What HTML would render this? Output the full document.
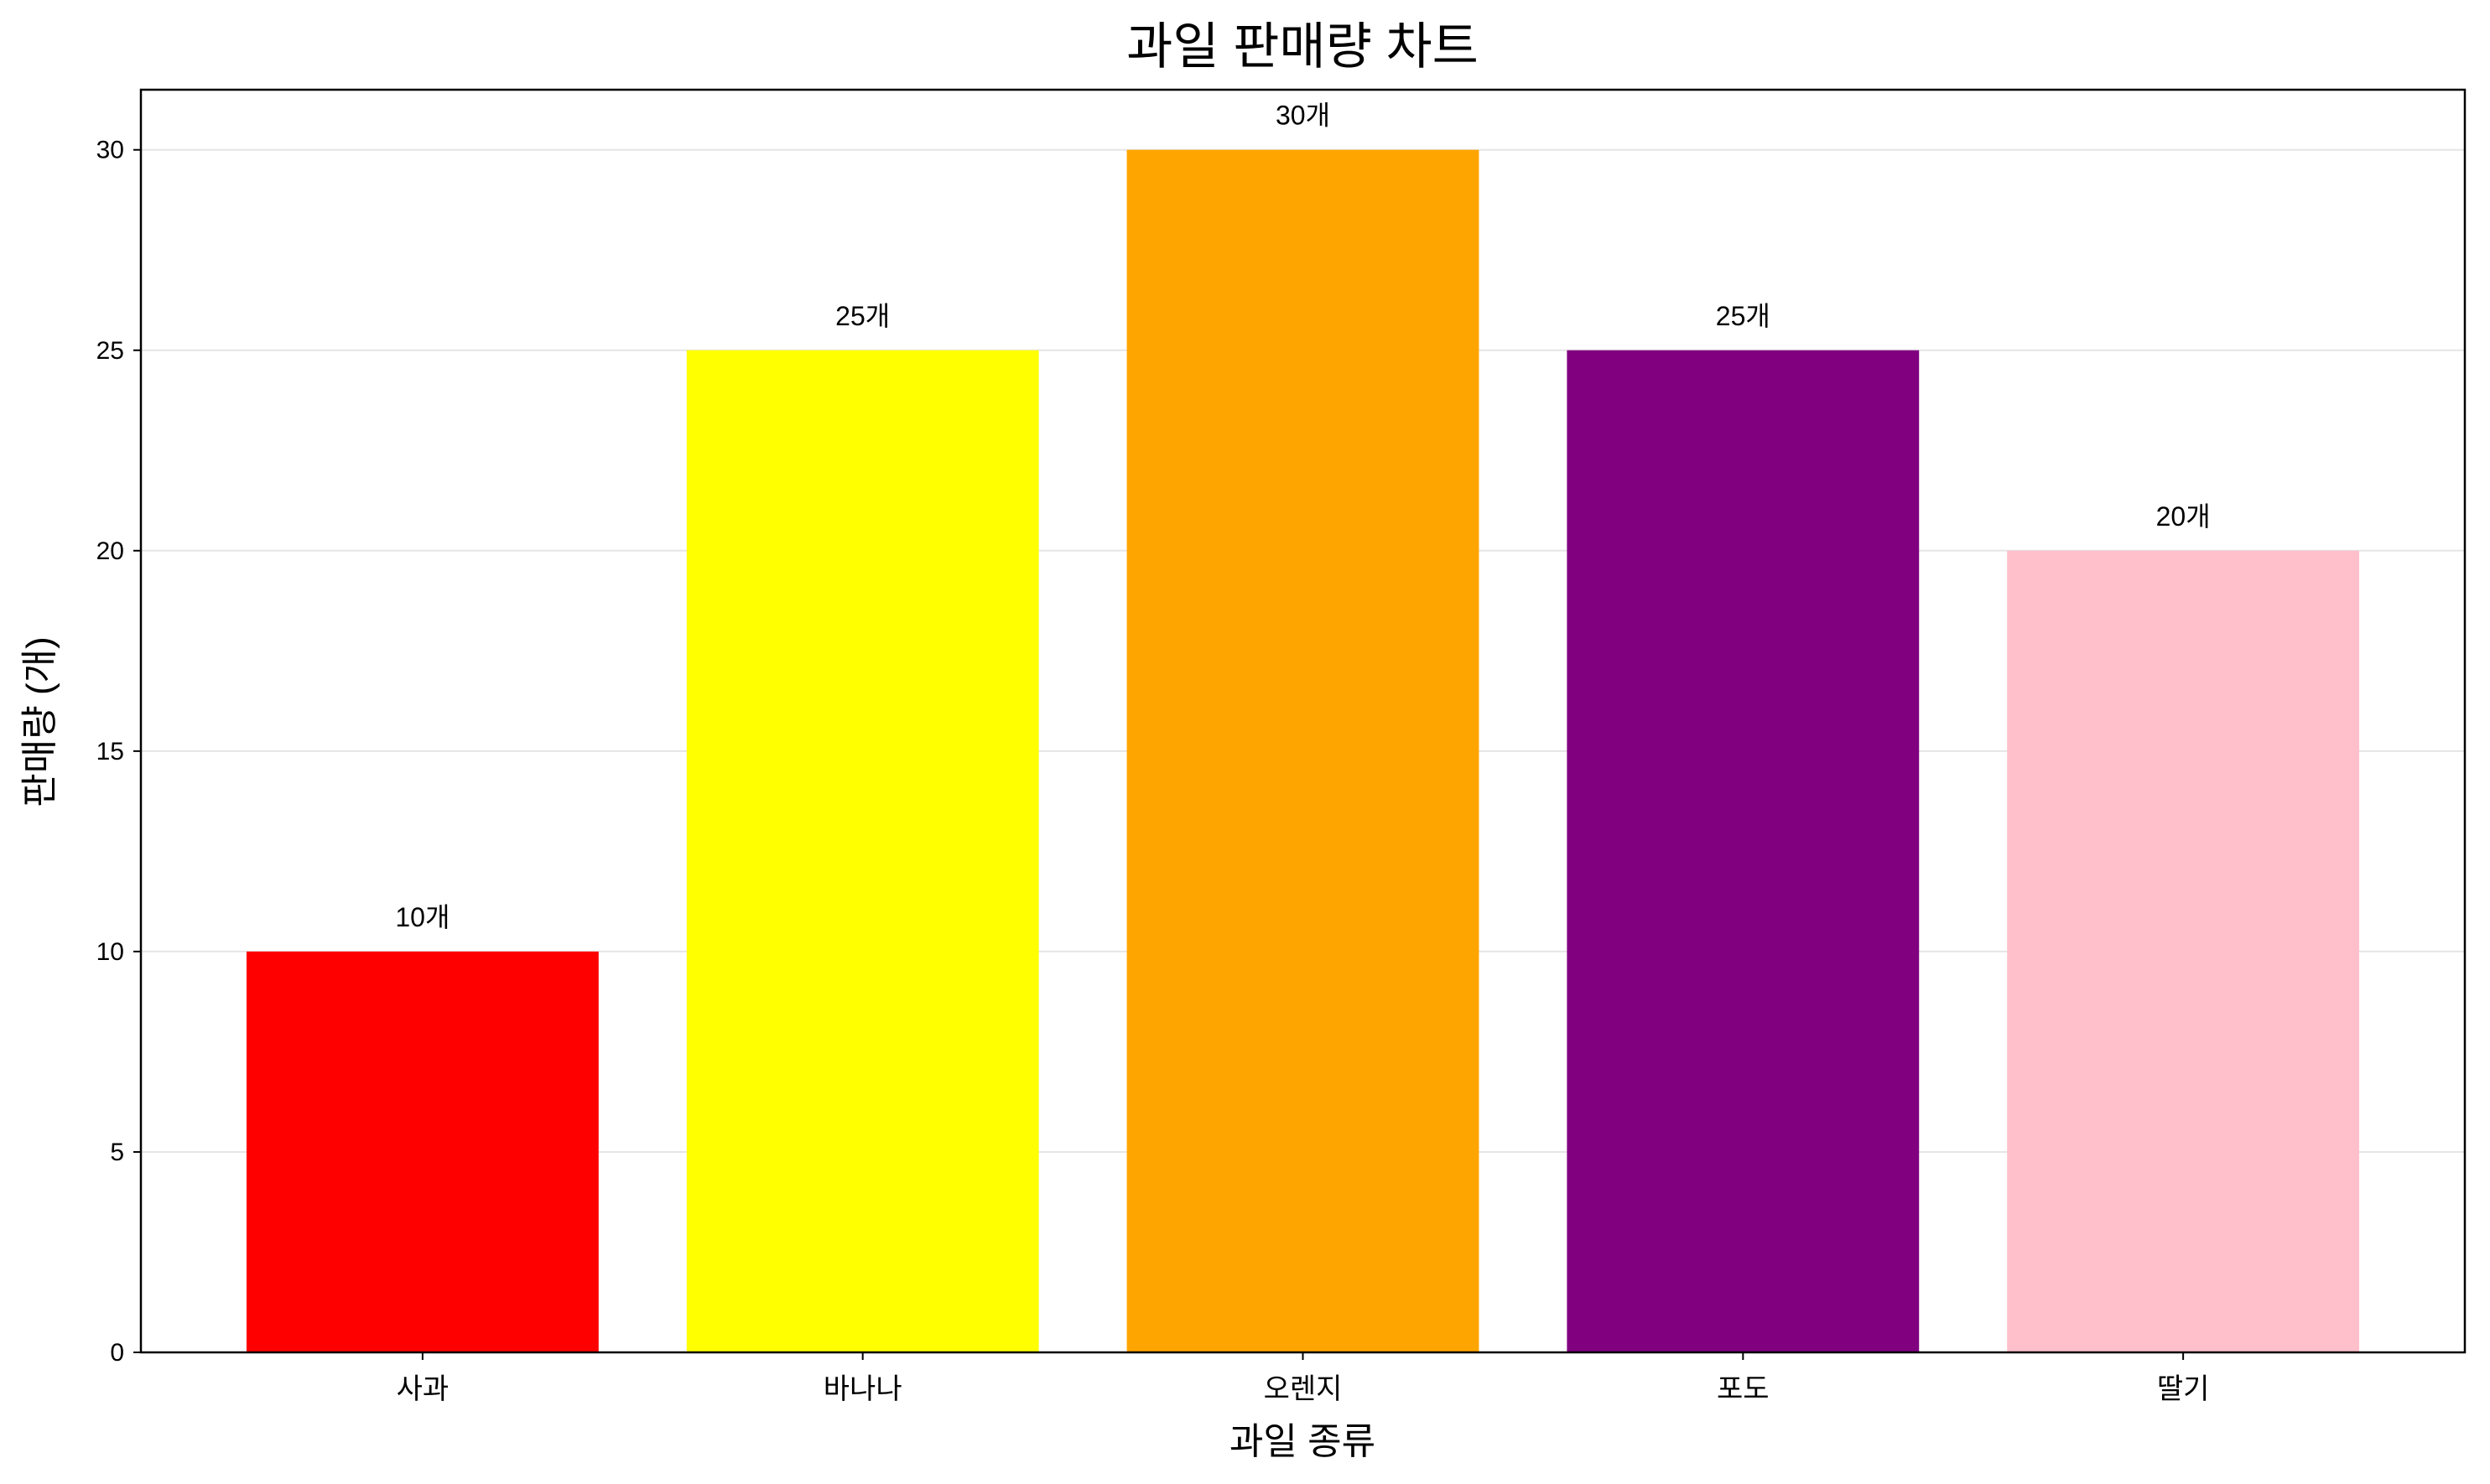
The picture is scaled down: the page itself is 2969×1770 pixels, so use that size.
<!DOCTYPE html>
<html><head><meta charset="utf-8">
<style>
html,body{margin:0;padding:0;background:#fff;}
svg{display:block;font-family:"Liberation Sans","Noto Sans CJK KR",sans-serif;}
</style></head>
<body>
<svg id="chart" width="2969" height="1770" viewBox="0 0 2969 1770" xmlns="http://www.w3.org/2000/svg">
<rect width="2969" height="1770" fill="#fff"/>
<text x="1553" y="76" font-size="60" text-anchor="middle" fill="#000">과일 판매량 차트</text>
<g id="grid"></g>
<g id="bars"></g>
<g id="axes"></g>
<text x="1553" y="1734" font-size="44" text-anchor="middle" fill="#000">과일 종류</text>
<text x="0" y="0" font-size="44" text-anchor="middle" fill="#000" transform="translate(62,861) rotate(-90)">판매량 (개)</text>
</svg>
<script>
const categories = ["사과","바나나","오렌지","포도","딸기"];
const values = [10,25,30,25,20];
const colors = ["#ff0000","#ffff00","#ffa500","#800080","#ffc0cb"];
const yTicks = [0,5,10,15,20,25,30];
const valueLabels = ["10개","25개","30개","25개","20개"];

const L=168, R=2939, T=107, B=1613;
const xMin=-0.64, xMax=4.64, yMax=31.5;
const NS="http://www.w3.org/2000/svg";
function xs(i){return L+(i-xMin)/(xMax-xMin)*(R-L);}
function ys(v){return B-v/yMax*(B-T);}
function mk(tag,attrs,parent){const e=document.createElementNS(NS,tag);for(const k in attrs)e.setAttribute(k,attrs[k]);parent.appendChild(e);return e;}
const grid=document.getElementById('grid'),bars=document.getElementById('bars'),axes=document.getElementById('axes');
yTicks.forEach(t=>{
  const g=mk('line',{x1:L,x2:R,y1:ys(t),y2:ys(t),stroke:'#e5e5e5','stroke-width':2},grid);
  
  
  const tk=mk('line',{x1:L-9,x2:L,y1:ys(t),y2:ys(t),stroke:'#000','stroke-width':2},axes);
  
  
  const tx=mk('text',{x:L-20,y:ys(t)+10,'font-size':30,'text-anchor':'end',fill:'#000'},axes);
  tx.textContent=t;
  
  
});
const bw=0.8*(xs(1)-xs(0));
categories.forEach((c,i)=>{
  const cx=xs(i);
  const r=mk('rect',{x:cx-bw/2,y:ys(values[i]),width:bw,height:B-ys(values[i]),fill:colors[i]},bars);
  
  
  const vl=mk('text',{x:cx,y:ys(values[i])-30,'font-size':32,'text-anchor':'middle',fill:'#000'},bars);
  vl.textContent=valueLabels[i];
  
  
  const tk=mk('line',{x1:cx,x2:cx,y1:B,y2:B+9,stroke:'#000','stroke-width':2},axes);
  
  
  const tl=mk('text',{x:cx,y:B+55,'font-size':34,'text-anchor':'middle',fill:'#000'},axes);
  tl.textContent=c;
  
  
});
const fr=mk('rect',{x:L,y:T,width:R-L,height:B-T,fill:'none',stroke:'#000','stroke-width':2.5},axes);


</script>
</body></html>
